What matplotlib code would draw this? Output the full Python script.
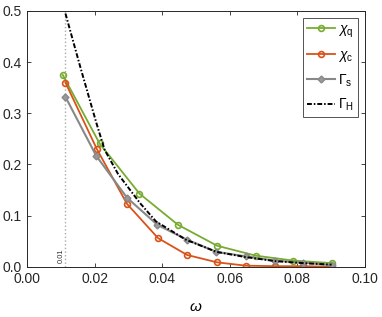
import matplotlib
matplotlib.use("Agg")
import matplotlib.pyplot as plt

plt.rcParams['font.family'] = ['Liberation Sans', 'DejaVu Sans']
plt.rcParams['mathtext.fontset'] = 'custom'
plt.rcParams['mathtext.rm'] = 'Liberation Sans'
plt.rcParams['mathtext.it'] = 'Liberation Sans:italic'

x_q = [0.0105, 0.0214, 0.0332, 0.0446, 0.0562, 0.0677, 0.0787, 0.0901]
chi_q = [0.375, 0.241, 0.143, 0.082, 0.041, 0.0215, 0.012, 0.007]

x_c = [0.0113, 0.0206, 0.0295, 0.0387, 0.0473, 0.0562, 0.0647, 0.0733, 0.0817, 0.0901]
chi_c = [0.360, 0.230, 0.123, 0.056, 0.023, 0.0085, 0.002, 0.001, 0.001, 0.0]

x_s = [0.0113, 0.0204, 0.0295, 0.0385, 0.0473, 0.0560, 0.0649, 0.0733, 0.0817, 0.0901]
gamma_s = [0.332, 0.217, 0.135, 0.082, 0.0527, 0.029, 0.020, 0.0117, 0.008, 0.003]

x_h = [0.0113, 0.0158, 0.0205, 0.0229, 0.0269, 0.0309, 0.0333, 0.0381, 0.0470, 0.0560, 0.0645, 0.0733, 0.0817, 0.0901]
gamma_h = [0.495, 0.388, 0.280, 0.2285, 0.181, 0.146, 0.125, 0.0885, 0.0527, 0.029, 0.019, 0.011, 0.007, 0.004]

omega_mark = 0.0113

fig = plt.figure(figsize=(3.82, 3.17), dpi=100)
ax = fig.add_axes([27.3/382, 1-266.7/317, (365-27.3)/382, (266.7-11)/317])

ax.axvline(omega_mark, color='#aaaaaa', linestyle=':', linewidth=1.0, zorder=1)
ax.text(omega_mark - 0.0013, 0.007, '0.01', rotation=90, fontsize=5.5, ha='center', va='bottom', color='#333333')

ax.plot(x_q, chi_q, '-o', color='#77AC30', markersize=4.2, markerfacecolor='none', markeredgewidth=1.2, linewidth=1.3, label=r'$\chi_\mathrm{q}$')
ax.plot(x_c, chi_c, '-o', color='#D95319', markersize=4.2, markerfacecolor='none', markeredgewidth=1.2, linewidth=1.3, label=r'$\chi_\mathrm{c}$')
ax.plot(x_s, gamma_s, '-D', color='#888888', markersize=3.5, markerfacecolor='#999999', markeredgewidth=1.0, linewidth=1.5, label=r'$\Gamma_\mathrm{s}$')
ax.plot(x_h, gamma_h, color='black', linestyle=(0, (2.5, 1.0, 0.8, 1.0)), linewidth=1.4, label=r'$\Gamma_\mathrm{H}$')

ax.set_xlim(0, 0.1)
ax.set_ylim(0, 0.5)
ax.set_xticks([0, 0.02, 0.04, 0.06, 0.08, 0.10])
ax.set_xticklabels(['0.00', '0.02', '0.04', '0.06', '0.08', '0.10'])
ax.set_yticks([0, 0.1, 0.2, 0.3, 0.4, 0.5])
ax.set_yticklabels(['0.0', '0.1', '0.2', '0.3', '0.4', '0.5'])
ax.tick_params(direction='in', top=True, right=True, labelsize=10, length=3, width=0.6, colors='#262626', pad=4)
for s in ax.spines.values():
    s.set_linewidth(0.7)
    s.set_color('#262626')
ax.set_xlabel(r'$\omega$', fontsize=11, labelpad=10)

leg = ax.legend(loc='upper right', fontsize=10, frameon=True, fancybox=False, handlelength=2.0,
                handletextpad=0.2, borderpad=0.3, labelspacing=0.6, borderaxespad=0.5)
leg.get_frame().set_edgecolor('#262626')
leg.get_frame().set_linewidth(0.7)

fig.savefig('out.png', dpi=100)
